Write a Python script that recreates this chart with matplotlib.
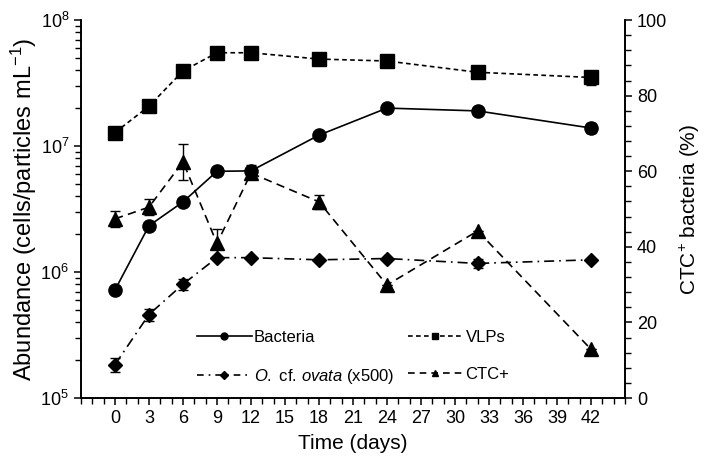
import matplotlib
matplotlib.use("Agg")
import matplotlib.pyplot as plt
from matplotlib.lines import Line2D
from matplotlib.ticker import MultipleLocator, FixedLocator, LogLocator, NullFormatter

plt.rcParams["font.family"] = ["Liberation Sans", "DejaVu Sans"]
plt.rcParams["mathtext.fontset"] = "custom"
plt.rcParams["mathtext.rm"] = "Liberation Sans"
plt.rcParams["mathtext.it"] = "Liberation Sans:italic"

days = [0, 3, 6, 9, 12, 18, 24, 32, 42]

bacteria = [7.2e5, 2.33e6, 3.6e6, 6.3e6, 6.35e6, 1.22e7, 2.0e7, 1.9e7, 1.39e7]
bacteria_err = [0, 0, 0, 0, 7e5, 0, 0, 0, 1.2e6]

vlps = [1.28e7, 2.07e7, 3.94e7, 5.5e7, 5.5e7, 4.9e7, 4.73e7, 3.85e7, 3.5e7]
vlps_err = [0, 0, 0, 0, 0, 0, 0, 0, 4.5e6]

ovata = [1.84e5, 4.6e5, 8.0e5, 1.3e6, 1.3e6, 1.25e6, 1.28e6, 1.17e6, 1.25e6]
ovata_err = [2.2e4, 5e4, 8e4, 0, 0, 0, 0, 1e5, 0]

ctc = [47.4, 50.5, 62.5, 40.9, 59.5, 51.9, 29.9, 44.2, 12.9]
ctc_err = [2.1, 2.1, 4.8, 3.7, 1.0, 1.8, 0, 0, 0]

labels = ["Bacteria", r"$\it{O.}$ cf. $\it{ovata}$ (x500)", "VLPs", "CTC+"]

fig = plt.figure(figsize=(7.09, 4.66), dpi=100)
ax = fig.add_axes([0.1142, 0.1459, 0.7673, 0.8111])
ax2 = ax.twinx()

lw = 1.2
ls_vlp = (0, (2.8, 2.0))
ls_ov = (0, (6, 3, 1, 3))
ls_ctc = (0, (5, 3.2))
eb = dict(elinewidth=1.0, capsize=3.3, capthick=1.0, color="black")

ax.errorbar(days, bacteria, yerr=bacteria_err, fmt="-o", ms=9.5, lw=lw, **eb)
ax.errorbar(days, vlps, yerr=vlps_err, fmt="s", ls=ls_vlp, ms=9.5, lw=lw, **eb)
ax.errorbar(days, ovata, yerr=ovata_err, fmt="D", ls=ls_ov, ms=7, lw=lw, **eb)
ax2.errorbar(days, ctc, yerr=ctc_err, fmt="^", ls=ls_ctc, ms=9.5, lw=lw, **eb)

ax.set_yscale("log")
ax.set_ylim(1e5, 1e8)
ax.set_xlim(-3, 45)
ax2.set_ylim(0, 100)

ax.xaxis.set_major_locator(FixedLocator(range(0, 43, 3)))
ax.xaxis.set_minor_locator(MultipleLocator(1))
ax.yaxis.set_minor_locator(LogLocator(base=10, subs=range(2, 10), numticks=10))
ax.yaxis.set_minor_formatter(NullFormatter())
ax.set_yticks([1e5, 1e6, 1e7, 1e8])
ax.set_yticklabels(["$10^5$", "$10^6$", "$10^7$", "$10^8$"])
ax2.yaxis.set_major_locator(MultipleLocator(20))
ax2.yaxis.set_minor_locator(MultipleLocator(4))

for a in (ax, ax2):
    a.spines["top"].set_visible(False)
    for s in a.spines.values():
        s.set_linewidth(1.2)
    a.tick_params(which="major", length=5, width=1.1, labelsize=13, direction="out")
    a.tick_params(which="minor", length=4, width=1.0, direction="out")

ax.set_xlabel("Time (days)", fontsize=15, labelpad=5)
ax.set_ylabel("Abundance (cells/particles mL$^{-1}$)", fontsize=17, labelpad=1)
ax2.set_ylabel("CTC$^{+}$ bacteria (%)", fontsize=15, labelpad=8)

proxy = [
    Line2D([], [], color="black", lw=lw, marker="o", ms=5),
    Line2D([], [], color="black", lw=lw, ls=(0, (4, 3, 1, 3)), marker="D", ms=4),
    Line2D([], [], color="black", lw=lw, ls=ls_vlp, marker="s", ms=5),
    Line2D([], [], color="black", lw=lw, ls=(0, (4, 3)), marker="^", ms=5),
]
ax2.legend(proxy, labels, ncol=2, frameon=False, fontsize=12, handlelength=3.3,
           handletextpad=0.15, columnspacing=0.8, labelspacing=1.35,
           loc="center", bbox_to_anchor=(0.5, 0.106))

fig.savefig("out.png", dpi=100)
